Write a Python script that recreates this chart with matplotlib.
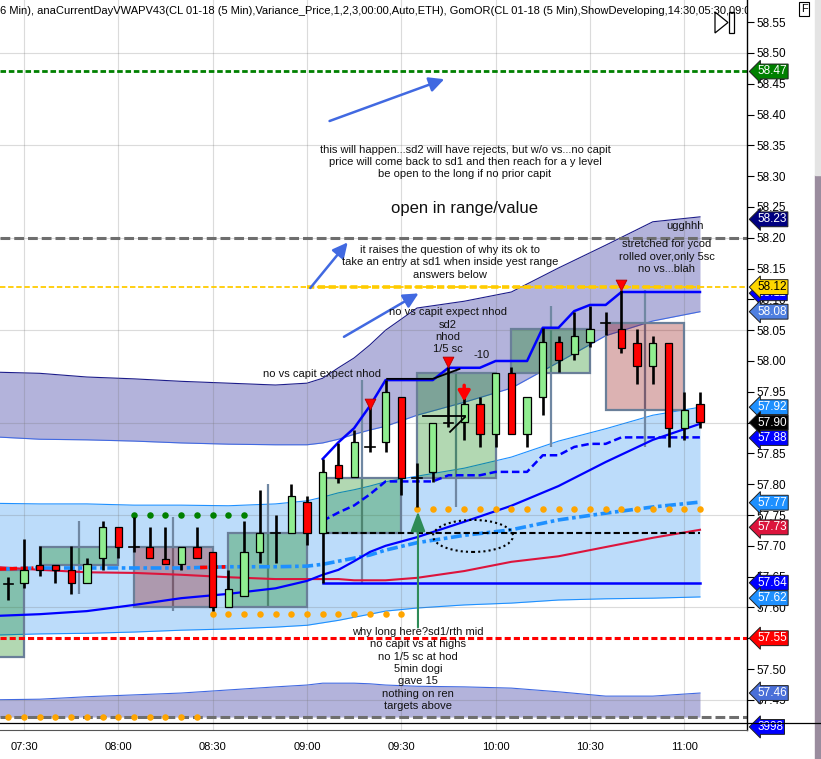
import numpy as np
import matplotlib
matplotlib.use("Agg")
import matplotlib.pyplot as plt
import matplotlib.patches as mpatches
import matplotlib.transforms as mtransforms
from matplotlib.lines import Line2D

plt.rcParams['font.family'] = ['Liberation Sans', 'DejaVu Sans']

# 5-min bars, index 0 = 07:30
bar_idx = list(range(-1, 44))
opens = [57.638, 57.640, 57.669, 57.669, 57.661, 57.640, 57.680, 57.730, 57.698, 57.698,
         57.679, 57.670, 57.698, 57.690, 57.601, 57.618, 57.690, 57.721, 57.721, 57.771,
         57.721, 57.831, 57.812, 57.860, 57.869, 57.942, 57.810, 57.820, 57.899, 57.901,
         57.930, 57.881, 57.980, 57.881, 57.942, 58.031, 58.011, 58.031, 58.062, 58.052,
         58.029, 57.992, 58.029, 57.891, 57.930]
highs = [57.649, 57.711, 57.700, 57.669, 57.700, 57.680, 57.740, 57.730, 57.747, 57.730,
         57.730, 57.698, 57.730, 57.690, 57.661, 57.740, 57.790, 57.750, 57.800, 57.781,
         57.841, 57.867, 57.888, 57.925, 57.969, 57.942, 57.834, 57.899, 57.990, 57.942,
         57.942, 57.980, 57.990, 57.942, 58.053, 58.041, 58.080, 58.089, 58.080, 58.115,
         58.052, 58.041, 58.029, 57.950, 57.950]
lows = [57.612, 57.631, 57.651, 57.640, 57.622, 57.640, 57.661, 57.680, 57.690, 57.680,
        57.670, 57.661, 57.680, 57.594, 57.601, 57.618, 57.672, 57.672, 57.721, 57.701,
        57.640, 57.802, 57.812, 57.852, 57.852, 57.782, 57.763, 57.804, 57.893, 57.872,
        57.860, 57.860, 57.881, 57.860, 57.912, 57.982, 58.002, 58.023, 58.042, 58.013,
        57.963, 57.963, 57.860, 57.872, 57.891]
closes = [57.638, 57.661, 57.661, 57.661, 57.640, 57.670, 57.730, 57.698, 57.698, 57.680,
          57.670, 57.698, 57.680, 57.601, 57.630, 57.690, 57.721, 57.721, 57.781, 57.721,
          57.820, 57.810, 57.869, 57.860, 57.950, 57.810, 57.810, 57.899, 57.899, 57.930,
          57.881, 57.980, 57.881, 57.942, 58.031, 58.002, 58.041, 58.052, 58.062, 58.021,
          57.992, 58.029, 57.891, 57.921, 57.901]

# 30-min overlay groups (first bar index of each group)
group_start = [1, 7, 13, 19, 25, 31, 37]
first_box = (-5, 57.519, 57.661)  # start, open, close of the partly hidden box

# bands / indicator lines, sampled at these bar indices
band_idx = [-2, 1, 4, 7, 10, 13, 16, 18, 19, 20, 21, 22, 23, 25, 28, 31, 34, 37, 40, 43]
sd2_top = [57.982, 57.980, 57.974, 57.971, 57.967, 57.964, 57.961, 57.964, 57.972, 57.989,
           58.005, 58.026, 58.050, 58.086, 58.097, 58.112, 58.151, 58.188, 58.226, 58.234]
sd2_inner = [57.877, 57.873, 57.872, 57.870, 57.867, 57.865, 57.864, 57.864, 57.867, 57.873,
             57.881, 57.888, 57.894, 57.912, 57.933, 57.956, 57.998, 58.041, 58.065, 58.080]
sd1_up = [57.769, 57.768, 57.768, 57.766, 57.766, 57.765, 57.768, 57.773, 57.779, 57.786,
          57.791, 57.797, 57.804, 57.813, 57.826, 57.844, 57.870, 57.890, 57.912, 57.925]
sd1_dn = [57.555, 57.557, 57.558, 57.560, 57.563, 57.565, 57.568, 57.571, 57.575, 57.579,
          57.584, 57.589, 57.594, 57.599, 57.604, 57.607, 57.612, 57.614, 57.615, 57.617]
sd2_low = [57.450, 57.451, 57.455, 57.458, 57.461, 57.466, 57.471, 57.474, 57.477, 57.477,
           57.477, 57.476, 57.474, 57.472, 57.471, 57.469, 57.463, 57.456, 57.456, 57.461]
vwap = [57.666, 57.661, 57.657, 57.656, 57.653, 57.649, 57.646, 57.646, 57.646, 57.646,
        57.644, 57.644, 57.644, 57.648, 57.659, 57.674, 57.683, 57.698, 57.713, 57.726]
dev_vwap = [57.662, 57.664, 57.664, 57.664, 57.664, 57.666, 57.666, 57.667, 57.670, 57.675,
            57.680, 57.685, 57.693, 57.705, 57.717, 57.726, 57.742, 57.753, 57.763, 57.771]
blue_rise = [57.586, 57.589, 57.594, 57.604, 57.615, 57.622, 57.631, 57.643, 57.653, 57.661,
             57.675, 57.690, 57.700, 57.714, 57.739, 57.765, 57.797, 57.836, 57.872, 57.898]

# developing range from 09:00
rng_idx = list(range(19, 44))
rng_high = [57.841, 57.868, 57.891, 57.927, 57.969, 57.969, 57.969, 57.969, 57.989, 57.989,
            57.989, 58.000, 58.000, 58.000, 58.054, 58.054, 58.081, 58.091, 58.091, 58.112,
            58.112, 58.112, 58.112, 58.112, 58.112]
rng_low = 57.64
rng_open = 57.72

# horizontal levels
lvl_green = 58.47
lvl_gray_hi = 58.20
lvl_gold = 58.12
lvl_red = 57.55
lvl_gray_lo = 57.422

# dotted levels: (first bar, last bar, price, colour)
dot_levels = [(-1, 11, 57.422, '#ffa500'), (7, 14, 57.750, '#008000'),
              (12, 24, 57.589, '#ffa500'), (25, 43, 57.760, '#ffa500')]

time_labels = ['07:30', '08:00', '08:30', '09:00', '09:30', '10:00', '10:30', '11:00']
time_idx = [0, 6, 12, 18, 24, 30, 36, 42]

# (tag position, text, background, text colour)
price_tags = [(58.47, '58.47', '#008000', 'white'), (58.23, '58.23', '#000080', 'white'),
              (58.11, '58.11', '#0000ff', 'white'), (58.12, '58.12', '#ffd700', 'black'),
              (58.08, '58.08', '#4f7fe0', 'white'), (57.925, '57.92', '#1e90ff', 'white'),
              (57.875, '57.88', '#0000ff', 'white'), (57.90, '57.90', '#000000', 'white'),
              (57.77, '57.77', '#1e90ff', 'white'), (57.73, '57.73', '#dc143c', 'white'),
              (57.64, '57.64', '#0000ff', 'white'), (57.615, '57.62', '#1e90ff', 'white'),
              (57.55, '57.55', '#ff0000', 'white'), (57.461, '57.46', '#4a6fd8', 'white'),
              (57.406, '3998', '#0000ff', 'white')]

W, H = 821, 759
fig = plt.figure(figsize=(W / 100, H / 100), dpi=100)
ax = fig.add_axes([0, 29 / H, 747 / W, 730 / H])
ax.set_xlim(-1.527, 45.99)
ax.set_ylim(57.401, 58.586)

purple = '#b3b3db'
lightblue = '#bcdcfa'

# bands
ax.fill_between(band_idx, sd2_inner, sd2_top, color=purple, lw=0, zorder=1)
ax.plot(band_idx, sd2_top, color='#1c1c8a', lw=0.8, zorder=1.1)
ax.plot(band_idx, sd2_inner, color='#4169e1', lw=0.8, zorder=1.1)
ax.fill_between(band_idx, sd1_dn, sd1_up, color=lightblue, lw=0, zorder=1)
ax.plot(band_idx, sd1_up, color='#1e90ff', lw=0.8, zorder=1.1)
ax.plot(band_idx, sd1_dn, color='#1e90ff', lw=0.8, zorder=1.1)
ax.fill_between(band_idx, lvl_gray_lo, sd2_low, color=purple, lw=0, zorder=1)
ax.plot(band_idx, sd2_low, color='#4169e1', lw=0.8, zorder=1.1)

# grid on top of the fills
for t in time_idx:
    ax.axvline(t, color=(0.45, 0.45, 0.45, 0.25), lw=0.8, zorder=1.5)
for p in [58.50, 58.35, 58.20, 58.05, 57.90, 57.75, 57.60, 57.45]:
    ax.axhline(p, color=(0.45, 0.45, 0.45, 0.25), lw=0.8, zorder=1.5)

# 30-min boxes
def draw_box(start, o, c, hi=None, lo=None):
    fc = (0, 0.5, 0, 0.3) if c >= o else (0.545, 0, 0, 0.3)
    if hi is not None:
        ax.vlines(start + 2.5, lo, hi, color='#7088a3', lw=1.6, zorder=2)
    ax.add_patch(mpatches.Rectangle((start, min(o, c)), 5, abs(c - o), fc=fc,
                                    ec='#6a7f99', lw=1.6, zorder=2.1))

draw_box(*first_box)
for s in group_start:
    k = s - bar_idx[0]
    draw_box(s, opens[k], closes[k + 5], max(highs[k:k + 6]), min(lows[k:k + 6]))

# horizontal levels
ax.axhline(lvl_green, color='#008000', lw=2.0, dashes=(2, 1), zorder=2.5)
ax.axhline(lvl_gray_hi, color='#6e6e6e', lw=2.2, dashes=(3.2, 1.3), zorder=2.5)
ax.axhline(lvl_gold, color='#ffcc00', lw=1.3, dashes=(3, 1.5), zorder=2.5)
ax.plot([18, 43], [lvl_gold, lvl_gold], color='#ffcc00', lw=2.6, dashes=(2, 1), zorder=2.6)
ax.axhline(lvl_red, color='#ff0000', lw=2.2, dashes=(2, 1), zorder=2.5)
ax.axhline(lvl_gray_lo, color='#6e6e6e', lw=2.2, dashes=(3.2, 1.3), zorder=2.5)
ax.axhline(57.412, color='black', lw=0.9, zorder=2.5)

# indicator lines
ax.plot(band_idx, vwap, color='#dc143c', lw=1.5, zorder=3)
ax.plot(band_idx, dev_vwap, color='#1e90ff', lw=2.6, dashes=(3, 1, 1, 1), zorder=3)
for a, b in [(-1.6, 0.6), (11.2, 12.8)]:
    xs = np.linspace(a, b, 10)
    ax.plot(xs, np.interp(xs, band_idx, dev_vwap), color='#ff0000', lw=2.6,
            dashes=(2, 1), zorder=3.1)
ax.plot(band_idx, blue_rise, color='#0000ff', lw=1.6, zorder=3)
ax.plot(rng_idx, rng_high, color='#0000ff', lw=1.8, zorder=3)
ax.plot([rng_idx[0], rng_idx[-1]], [rng_low, rng_low], color='#0000ff', lw=1.8, zorder=3)
ax.plot(rng_idx, (np.array(rng_high) + rng_low) / 2, color='#0000ff', lw=1.8,
        dashes=(3, 1.5), zorder=3)
ax.plot([rng_idx[0], rng_idx[-1]], [rng_open, rng_open], color='black', lw=1.5,
        dashes=(3, 1.5), zorder=3)

for a, b, p, col in dot_levels:
    xs = np.arange(a, b + 1)
    ax.scatter(xs, np.full(len(xs), p), s=22, color=col, lw=0, zorder=3.2)

# candles
ax.vlines(bar_idx, lows, highs, color='black', lw=1.9, zorder=5)
for i, o, c in zip(bar_idx, opens, closes):
    if abs(c - o) < 0.002:
        ax.plot([i - 0.3, i + 0.3], [c, c], color='black', lw=1.2, zorder=6)
    else:
        col = '#90ee90' if c > o else '#ff0000'
        ax.add_patch(mpatches.Rectangle((i - 0.23, min(o, c)), 0.46, abs(c - o),
                                        fc=col, ec='black', lw=0.9, zorder=6))

# drawings
ax.scatter([22, 27, 38], [57.930, 57.998, 58.124], marker='v', s=60, color='#ff0000',
           edgecolors='#b00000', lw=0.6, zorder=7)
ax.annotate('', xy=(28, 57.930), xytext=(28, 57.965),
            arrowprops=dict(arrowstyle='-|>,head_width=0.35,head_length=0.6',
                            color='#ff0000', lw=2.5), zorder=7)
ax.plot([23.1, 26.0, 27.7], [57.971, 57.971, 57.987], color='black', lw=1.3, zorder=7)
ax.plot([25.4, 28.05], [57.911, 57.911], color='black', lw=1.3, zorder=7)
ax.plot([27.1, 28.05], [57.885, 57.909], color='black', lw=1.3, zorder=7)

arrow_kw = dict(arrowstyle='-|>,head_width=0.45,head_length=0.9', color='#4169e1', lw=1.8)
ax.annotate('', xy=(26.9, 58.459), xytext=(19.27, 58.388), arrowprops=arrow_kw, zorder=7)
ax.annotate('', xy=(20.7, 58.196), xytext=(18.1, 58.115), arrowprops=arrow_kw, zorder=7)
ax.annotate('', xy=(25.25, 58.112), xytext=(20.2, 58.037), arrowprops=arrow_kw, zorder=7)
ax.annotate('', xy=(25.06, 57.760), xytext=(25.06, 57.563),
            arrowprops=dict(arrowstyle='-|>,head_width=0.45,head_length=1.2',
                            color='#2e8b57', lw=1.5), zorder=7)
ax.add_patch(mpatches.Ellipse((28.56, 57.716), 5.09, 0.052, fill=False, ec='black',
                              lw=1.5, ls=(0, (1, 1.5)), zorder=7))

# notes
tk = dict(ha='center', va='center', fontsize=8, color='#111111', linespacing=1.3, zorder=8)
ax.text(28.05, 58.323, 'this will happen...sd2 will have rejects, but w/o vs...no capit\n'
        'price will come back to sd1 and then reach for a y level\n'
        'be open to the long if no prior capit', **tk)
ax.text(28.05, 58.247, 'open in range/value', ha='center', va='center', fontsize=12,
        color='#111111', zorder=8)
ax.text(27.1, 58.160, 'it raises the question of why its ok to\n'
        'take an entry at sd1 when inside yest range\nanswers below', **tk)
ax.text(26.97, 58.049, 'no vs capit expect nhod\nsd2\nnhod\n1/5 sc', **tk)
ax.text(29.1, 58.010, '-10', **tk)
ax.text(18.96, 57.979, 'no vs capit expect nhod', **tk)
ax.text(42.05, 58.219, 'ugghhh', **tk)
ax.text(40.9, 58.169, 'stretched for ycod\nrolled over,only 5sc\nno vs...blah', **tk)
ax.text(25.06, 57.500, 'why long here?sd1/rth mid\nno capit vs at highs\nno 1/5 sc at hod\n'
        '5min dogi\ngave 15\nnothing on ren\ntargets above', **tk)

ax.text(0.0, 1 - 11 / 730, '6 Min), anaCurrentDayVWAPV43(CL 01-18 (5 Min),Variance_Price,'
        '1,2,3,00:00,Auto,ETH), GomOR(CL 01-18 (5 Min),ShowDeveloping,14:30,05:30,09:00)',
        transform=ax.transAxes, fontsize=8.0, va='center', ha='left', clip_on=True,
        color='black', zorder=9)

# axes styling
for s in ['top', 'left']:
    ax.spines[s].set_visible(False)
ax.spines['right'].set_linewidth(1.0)
ax.spines['bottom'].set_color('#555555')
ax.yaxis.tick_right()
ticks = np.round(np.arange(57.45, 58.551, 0.05), 2)
ax.set_yticks(ticks)
ax.set_yticklabels([f'{v:.2f}' for v in ticks], fontsize=8.5)
ax.tick_params(axis='y', length=5, width=0.8, pad=1.5)
ax.set_xticks(time_idx)
ax.set_xticklabels(time_labels, fontsize=8)
ax.tick_params(axis='x', length=0, pad=9)

# price tags on the axis
tr = mtransforms.blended_transform_factory(ax.transAxes, ax.transData)
for p, lab, fc, tc in price_tags:
    ax.text(1.0135, p, lab, transform=tr, ha='left', va='center', fontsize=8.5, color=tc,
            clip_on=False, zorder=10,
            bbox=dict(boxstyle='larrow,pad=0.12', fc=fc, ec='#202020', lw=0.7))

fig.add_artist(Line2D([747 / W, 1], [1 - 723 / H] * 2, color='black', lw=0.9,
                      transform=fig.transFigure))
fig.add_artist(mpatches.Polygon([(715 / W, 1 - 12 / H), (715 / W, 1 - 33 / H),
                                 (728 / W, 1 - 22.5 / H)], closed=True, fill=False,
                                ec='black', lw=0.9, transform=fig.transFigure))
fig.add_artist(mpatches.Rectangle((729 / W, 1 - 33 / H), 5 / W, 21 / H, fill=False,
                                  ec='black', lw=0.9, transform=fig.transFigure))
fig.text(804 / W, 1 - 9 / H, 'F', ha='center', va='center', fontsize=8,
         bbox=dict(boxstyle='square,pad=0.15', fc='white', ec='black', lw=0.8))
fig.add_artist(mpatches.Rectangle((815 / W, 0), 6 / W, 1 - 175 / H, color='#9a8c9e',
                                  transform=fig.transFigure))
fig.add_artist(mpatches.Rectangle((815 / W, 1 - 175 / H), 6 / W, 175 / H, color='#e4e4e4',
                                  transform=fig.transFigure))

fig.savefig('out.png', dpi=100)
